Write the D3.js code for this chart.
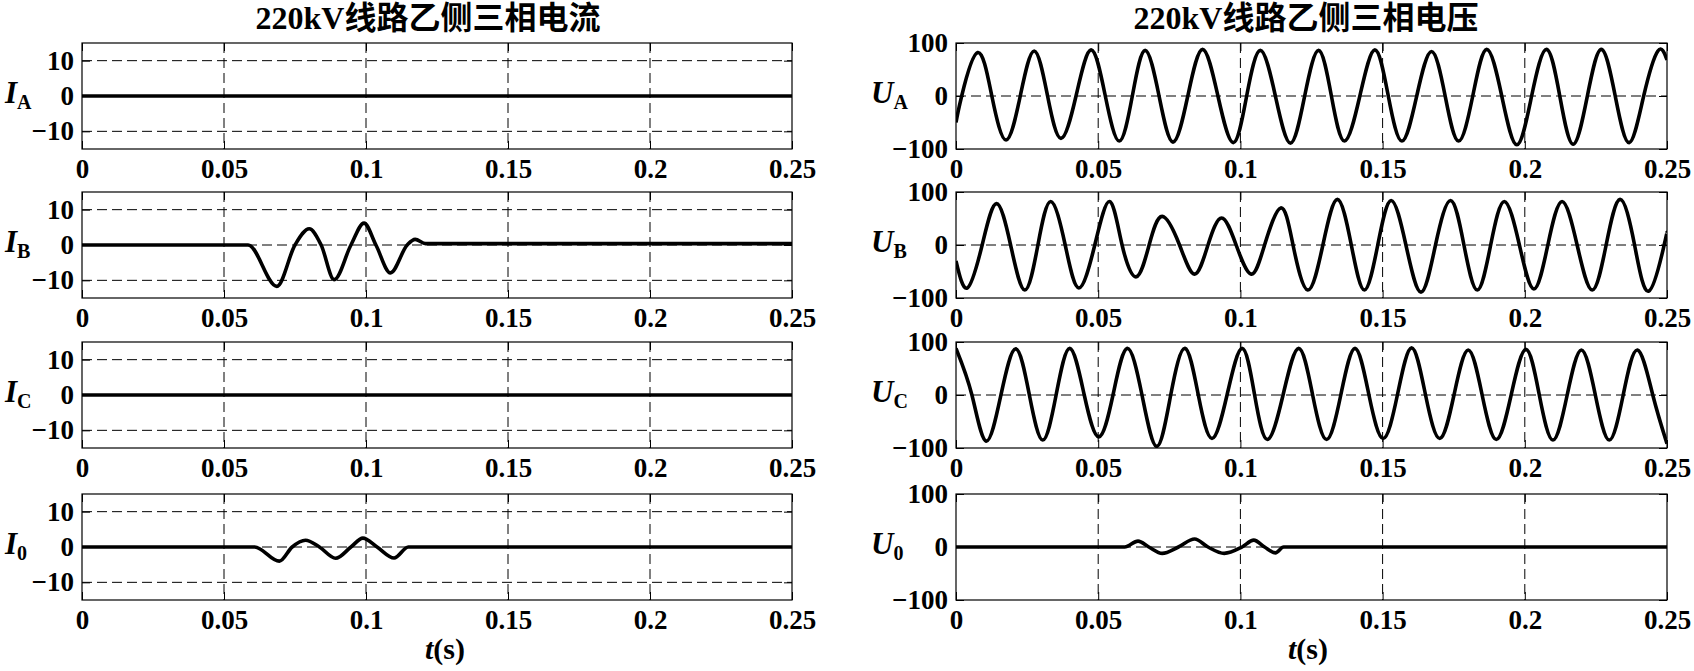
<!DOCTYPE html>
<html><head><meta charset="utf-8">
<script src="https://cdn.jsdelivr.net/npm/d3@7"></script>
<style>
html,body{margin:0;padding:0;background:#fff;}
svg{display:block;}
</style></head><body>
<svg id="chart" width="1694" height="671"></svg>
<script>
// ---------------- data ----------------
const currentTitle = "220kV线路乙侧三相电流";
const voltageTitle = "220kV线路乙侧三相电压";
const xLabelMain = "t";
const xLabelUnit = "(s)";
const xTicks = [0, 0.05, 0.1, 0.15, 0.2, 0.25];
const xTickLabels = ["0", "0.05", "0.1", "0.15", "0.2", "0.25"];
const currentTicks = [-10, 0, 10];
const currentTickLabels = ["\u221210", "0", "10"];
const currentDomain = [-15, 15];
const voltageTicks = [-100, 0, 100];
const voltageTickLabels = ["\u2212100", "0", "100"];
const voltageDomain = [-100, 100];
const currentNames = ["I", "I", "I", "I"];
const voltageNames = ["U", "U", "U", "U"];
const phaseSubs = ["A", "B", "C", "0"];

// currents [t (s), value]
const iA = [[0, 0], [0.25, 0]];
const iB = [[0, 0], [0.0585, 0], [0.0686, -11.7], [0.075, 0], [0.08, 4.6], [0.0842, 0], [0.0888, -9.8],
  [0.0947, 0], [0.0993, 6.2], [0.1035, 0], [0.1086, -7.9], [0.1145, 0], [0.1173, 1.6], [0.121, 0.4], [0.25, 0.4]];
const iC = [[0, 0], [0.25, 0]];
const i0 = [[0, 0], [0.0608, 0], [0.0695, -4], [0.074, 0], [0.0787, 1.9], [0.0836, 0], [0.0893, -3.2],
  [0.0947, 0], [0.0989, 2.5], [0.1039, 0], [0.1099, -3.1], [0.1149, 0], [0.25, 0]];

// voltages [t (s), value]
const uA = [[0, -50], [0.002, 0], [0.0076, 82], [0.0126, 0], [0.0176, -83], [0.0226, 0], [0.0275, 85], [0.0322, 0],
  [0.0369, -80], [0.0422, 0], [0.0475, 87], [0.0525, 0], [0.0574, -85], [0.062, 0], [0.0665, 86], [0.0714, 0],
  [0.0763, -87], [0.0815, 0], [0.0867, 88], [0.0921, 0], [0.0975, -88], [0.1022, 0], [0.107, 86], [0.1123, 0],
  [0.1176, -89], [0.1226, 0], [0.1275, 86], [0.132, 0], [0.1366, -85], [0.142, 0], [0.1473, 87], [0.152, 0],
  [0.1568, -85], [0.162, 0], [0.1672, 84], [0.172, 0], [0.1767, -85], [0.1817, 0], [0.1866, 88], [0.1919, 0],
  [0.1972, -92], [0.2024, 0], [0.2076, 88], [0.2123, 0], [0.217, -91], [0.222, 0], [0.2269, 88], [0.2318, 0],
  [0.2367, -88], [0.2418, 0], [0.2468, 85], [0.25, 68]];
const uB = [[0, -30], [0.004, -81], [0.0092, 0], [0.0142, 78], [0.0192, 0], [0.0242, -85], [0.0288, 0], [0.0333, 82],
  [0.0384, 0], [0.0432, -81], [0.0488, 0], [0.054, 82], [0.0584, 0], [0.0634, -60], [0.0679, 0], [0.0725, 54],
  [0.0786, 0], [0.0839, -55], [0.0886, 0], [0.0934, 51], [0.0985, 0], [0.1038, -55], [0.1085, 0], [0.1142, 70],
  [0.1185, 0], [0.1237, -85], [0.129, 0], [0.1341, 86], [0.139, 0], [0.1436, -85], [0.1483, 0], [0.153, 84],
  [0.1582, 0], [0.1635, -89], [0.1686, 0], [0.1739, 84], [0.1786, 0], [0.1833, -85], [0.188, 0], [0.1928, 82],
  [0.1981, 0], [0.2032, -83], [0.2081, 0], [0.2131, 82], [0.2184, 0], [0.2237, -85], [0.2286, 0], [0.2335, 86],
  [0.2386, 0], [0.2436, -87], [0.249, 0], [0.25, 23]];
const uC = [[0, 88], [0.0056, 0], [0.0106, -87], [0.0158, 0], [0.021, 87], [0.0258, 0], [0.0305, -85], [0.0352, 0],
  [0.04, 88], [0.0451, 0], [0.0502, -79], [0.0552, 0], [0.0602, 88], [0.0654, 0], [0.0706, -97], [0.0755, 0],
  [0.0805, 88], [0.0852, 0], [0.09, -82], [0.0953, 0], [0.1006, 88], [0.105, 0], [0.1095, -84], [0.115, 0],
  [0.1205, 88], [0.1254, 0], [0.1303, -84], [0.1353, 0], [0.1403, 88], [0.1452, 0], [0.1502, -82], [0.1552, 0],
  [0.1602, 89], [0.1651, 0], [0.1701, -82], [0.1751, 0], [0.1801, 85], [0.185, 0], [0.19, -84], [0.1952, 0],
  [0.2004, 86], [0.2051, 0], [0.2099, -85], [0.2149, 0], [0.2199, 85], [0.2248, 0], [0.2297, -85], [0.2346, 0],
  [0.2396, 85], [0.245, 0], [0.25, -92]];
const u0 = [[0, 0], [0.0593, 0], [0.064, 11], [0.0678, 0], [0.0725, -12], [0.0782, 0], [0.0839, 15], [0.0886, 0],
  [0.0943, -12], [0.1006, 0], [0.1047, 13], [0.1085, 0], [0.1123, -11], [0.1152, 0], [0.25, 0]];

const currentSeries = [iA, iB, iC, i0];
const voltageSeries = [uA, uB, uC, u0];

// ---------------- layout ----------------
const SERIF = "'Liberation Serif','Times New Roman',serif";
const TITLE_FONT = "'Liberation Serif','Noto Sans CJK SC',serif";
const panelTops = [43, 192, 342, 494];
const PH = 106;
const columns = [
  {x0: 82, x1: 792, title: currentTitle, domain: currentDomain, ticks: currentTicks, tickLabels: currentTickLabels,
   series: currentSeries, names: currentNames, labelX: 5, titleX: 428, xLabelX: 445,
   curves: [d3.curveMonotoneX, d3.curveMonotoneX, d3.curveMonotoneX, d3.curveMonotoneX]},
  {x0: 956, x1: 1667, title: voltageTitle, domain: voltageDomain, ticks: voltageTicks, tickLabels: voltageTickLabels,
   series: voltageSeries, names: voltageNames, labelX: 871, titleX: 1306, xLabelX: 1308,
   curves: [d3.curveNatural, d3.curveNatural, d3.curveNatural, d3.curveMonotoneX]}
];

const svg = d3.select("#chart");
const defs = svg.append("defs");
let clipIdx = 0;

function styleAxis(g, showText) {
  g.attr("font-family", SERIF).attr("font-size", 27).attr("font-weight", "bold");
  g.select(".domain").remove();
  g.selectAll(".tick line").attr("stroke", "#000").attr("stroke-width", 1);
  if (!showText) g.selectAll(".tick text").remove();
  else g.selectAll(".tick text").attr("fill", "#000");
}

columns.forEach(col => {
  svg.append("text").attr("x", col.titleX).attr("y", 29).attr("text-anchor", "middle")
    .attr("font-family", TITLE_FONT).attr("font-weight", "bold").attr("font-size", 32).text(col.title);

  panelTops.forEach((top, i) => {
    const bottom = top + PH;
    const x = d3.scaleLinear().domain([0, 0.25]).range([col.x0, col.x1]);
    const y = d3.scaleLinear().domain(col.domain).range([bottom, top]);
    const g = svg.append("g");
    const id = "clip" + (clipIdx++);
    defs.append("clipPath").attr("id", id).append("rect")
      .attr("x", col.x0).attr("y", top).attr("width", col.x1 - col.x0).attr("height", PH);

    // grid
    g.selectAll(".vg").data(xTicks.filter(t => t > 0 && t < 0.25)).join("line")
      .attr("x1", d => x(d)).attr("x2", d => x(d)).attr("y1", top).attr("y2", bottom)
      .attr("stroke", "#000").attr("stroke-width", 1).attr("stroke-dasharray", "10,5");
    g.selectAll(".hg").data(col.ticks.filter(v => v > col.domain[0] && v < col.domain[1])).join("line")
      .attr("x1", col.x0).attr("x2", col.x1).attr("y1", d => y(d)).attr("y2", d => y(d))
      .attr("stroke", "#000").attr("stroke-width", 1).attr("stroke-dasharray", "10,5");

    // trace
    const line = d3.line().x(d => x(d[0])).y(d => y(d[1])).curve(col.curves[i]);
    g.append("path").datum(col.series[i]).attr("d", line).attr("clip-path", `url(#${id})`)
      .attr("fill", "none").attr("stroke", "#000").attr("stroke-width", 3.6)
      .attr("stroke-linejoin", "round").attr("stroke-linecap", "butt");

    // box
    g.append("rect").attr("x", col.x0).attr("y", top).attr("width", col.x1 - col.x0).attr("height", PH)
      .attr("fill", "none").attr("stroke", "#000").attr("stroke-width", 1.2);

    // axes
    const fmtX = d => xTickLabels[xTicks.indexOf(d)];
    const fmtY = d => col.tickLabels[col.ticks.indexOf(d)];
    g.append("g").attr("transform", `translate(0,${bottom})`)
      .call(d3.axisBottom(x).tickValues(xTicks).tickFormat(fmtX).tickSizeInner(-8).tickSizeOuter(0).tickPadding(10))
      .call(a => styleAxis(a, true));
    g.append("g").attr("transform", `translate(0,${top})`)
      .call(d3.axisTop(x).tickValues(xTicks).tickSizeInner(-8).tickSizeOuter(0))
      .call(a => styleAxis(a, false));
    g.append("g").attr("transform", `translate(${col.x0},0)`)
      .call(d3.axisLeft(y).tickValues(col.ticks).tickFormat(fmtY).tickSizeInner(-8).tickSizeOuter(0).tickPadding(8))
      .call(a => styleAxis(a, true));
    g.append("g").attr("transform", `translate(${col.x1},0)`)
      .call(d3.axisRight(y).tickValues(col.ticks).tickSizeInner(-8).tickSizeOuter(0))
      .call(a => styleAxis(a, false));

    // y label
    const lab = svg.append("text").attr("x", col.labelX).attr("y", y(0) + 7)
      .attr("font-family", SERIF).attr("font-size", 31).attr("font-weight", "bold");
    lab.append("tspan").attr("font-style", "italic").text(col.names[i]);
    lab.append("tspan").attr("font-size", 20).attr("dy", 6).text(phaseSubs[i]);
  });

  // x label
  const xl = svg.append("text").attr("x", col.xLabelX).attr("y", 659).attr("text-anchor", "middle")
    .attr("font-family", SERIF).attr("font-size", 30).attr("font-weight", "bold");
  xl.append("tspan").attr("font-style", "italic").text(xLabelMain);
  xl.append("tspan").text(xLabelUnit);
});
</script>
</body></html>
